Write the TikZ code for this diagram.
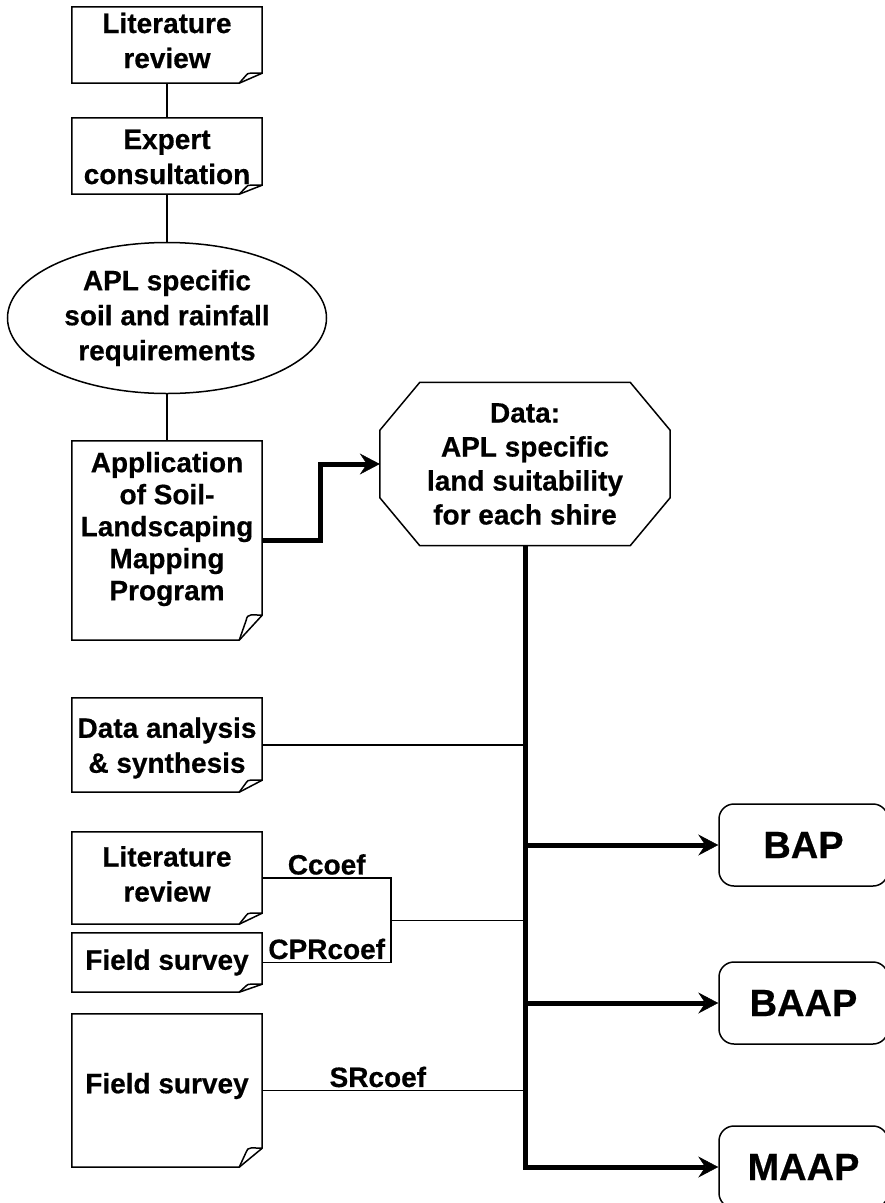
\documentclass[tikz,border=0pt]{standalone}
\usepackage{fontspec}
\setmainfont{Liberation Sans}[BoldFeatures={FakeBold=0.5}]
\usetikzlibrary{shapes.geometric,arrows.meta,calc}
\begin{document}
\begin{tikzpicture}[x=1pt,y=-1pt,
  thinl/.style={line width=1.5pt},
  thickl/.style={line width=5pt},
  arr/.style={thickl,-{Stealth[length=20pt,width=21pt,inset=7pt,line width=0.5pt]}},
  notebox/.style={minimum width=190pt, inner sep=0pt, draw=none},
  txt/.style={align=center, inner sep=0pt, font=\bfseries\fontsize{28}{35}\selectfont},
  lbl/.style={font=\bfseries\fontsize{28}{34}\selectfont, inner sep=2.5pt},
  endbox/.style={draw, thinl, rounded corners=15pt, minimum width=169pt, minimum height=82pt, inner sep=0pt, font=\bfseries\fontsize{38}{44}\selectfont}]
\path[use as bounding box, fill=white] (0,0) rectangle (885,1203);

% boxes
\node[notebox, minimum height=76pt] (lit1) at (167,45) {};
\node[notebox, minimum height=76pt] (exp) at (167,156) {};
\node[draw, thinl, ellipse, minimum width=319pt, minimum height=151pt, inner sep=0pt, txt] (req) at (167,318) {APL specific\\soil and rainfall\\requirements};
\node[notebox, minimum height=199pt] (app) at (167,540.5) {};
\node[minimum width=290pt, minimum height=163pt, inner sep=0pt, txt, font=\bfseries\fontsize{28}{34}\selectfont] (oct) at (525,464) {Data:\\APL specific\\land suitability\\for each shire};
\draw[thinl, line join=miter] ($(oct.north west)+(40,0)$) -- ($(oct.north east)+(-40,0)$) -- ($(oct.north east)+(0,48)$) -- ($(oct.south east)+(0,-48)$) -- ($(oct.south east)+(-40,0)$) -- ($(oct.south west)+(40,0)$) -- ($(oct.south west)+(0,-48)$) -- ($(oct.north west)+(0,48)$) -- cycle;
\node[notebox, minimum height=94pt] (da) at (167,745) {};
\node[notebox, minimum height=92pt] (lit2) at (167,878) {};
\node[notebox, minimum height=59pt] (fs1) at (167,962.5) {};
\node[notebox, minimum height=153pt] (fs2) at (167,1090.5) {};
\node[endbox] (bap) at (803.5,845) {BAP};
\node[endbox] (baap) at (803.5,1003) {BAAP};
\node[endbox] (maap) at (803.5,1167) {MAAP};

% texts of note boxes
\node[txt] (lit1t) at (167,40.5) {Literature\\review};
\node[txt] (expt) at (167,157) {Expert\\consultation};
\node[txt, font=\bfseries\fontsize{28}{32}\selectfont] (appt) at (167,529) {Application\\of Soil-\\Landscaping\\Mapping\\Program};
\node[txt] (dat) at (167,748) {Data analysis\\\& synthesis};
\node[txt] (lit2t) at (167,874) {Literature\\review};
\node[txt] (fs1t) at (167,962.5) {Field survey};
\node[txt] (fs2t) at (167,1086) {Field survey};

% note outlines with folded corner
\foreach \n/\fd in {lit1/10, exp/9, app/25, da/12, lit2/11, fs1/8, fs2/19}{
  \coordinate (A) at ($(\n.south east)+(-23,0)$);
  \coordinate (B) at ($(\n.south east)+(0,-\fd)$);
  \coordinate (P) at ($(A)+(7,-0.8*\fd)$);
  \draw[thinl, line join=miter] (\n.north west) -- (\n.north east) -- (B) -- (A) -- (\n.south west) -- cycle;
  \draw[thinl, line join=round] (A) -- (P) .. controls +(1,-0.3*\fd) and +(-9,0) .. (B);
}

% connectors
\draw[thinl] (lit1) -- (exp);
\draw[thinl] (exp) -- (req);
\draw[thinl] (req) -- (app);
\draw[arr] (app.east) -- ++(58.5,0) |- (oct.west);

\draw[thinl] (da.east) -- (da.east -| oct.south);
\draw[thinl] (lit2.east) -- node[lbl, above] (cc) {Ccoef} ++(129,0) |- node[lbl, above, pos=0.75] (cpr) {CPRcoef} (fs1.east);
\coordinate (brk) at (391,920.5);
\draw[thinl] (brk) -- (brk -| oct.south);
\draw[thinl] (fs2.east) -- node[lbl, above, pos=0.44] (sr) {SRcoef} (fs2.east -| oct.south);

\draw[arr] (oct.south) |- (maap.west);
\draw[arr] (oct.south |- bap.west) -- (bap.west);
\draw[arr] (oct.south |- baap.west) -- (baap.west);
\end{tikzpicture}
\end{document}
